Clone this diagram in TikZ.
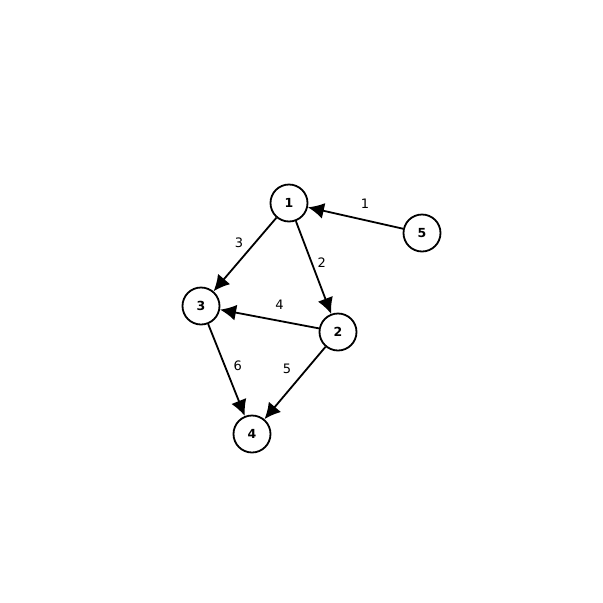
\documentclass[tikz,border=0pt]{standalone}
\usepackage{fontspec}
\setmainfont{DejaVu Sans}
\usetikzlibrary{arrows.meta,positioning}
\tikzset{%
  every vertex/.style={
    circle,
    draw,
    line width=1.8pt,
    minimum size=37pt,
    inner sep=0pt,
    font=\fontsize{12.5}{14}\selectfont\bfseries
  },
  weight/.style={
    font=\fontsize{13}{15}\selectfont,
    inner sep=2pt
  },
}

\begin{document}
\begin{tikzpicture}[x=1pt, y=-1pt, > = {Latex[length=16pt,width=16pt]}]
\useasboundingbox (0,0) rectangle (603,603);
    \foreach \n/\x/\y in {1/289/203, 2/338/332, 3/201/306, 4/252/434, 5/422/233}
        \node[every vertex] (v\n) at (\x,\y) {\n};

    \draw[line width=1.8pt, ->] (v5) -- (v1) node[weight, pos=0.4, above=9pt] {1};
    \draw[line width=1.8pt, ->] (v1) -- (v3) node[weight, pos=0.45, above left=0pt and 2pt] {3};
    \draw[line width=1.8pt, ->] (v1) -- (v2) node[weight, pos=0.45, right=3pt] {2};
    \draw[line width=1.8pt, ->] (v2) -- (v3) node[weight, pos=0.4, above=8pt] {4};
    \draw[line width=1.8pt, ->] (v2) -- (v4) node[weight, pos=0.45, above left=3pt and 4pt] {5};
    \draw[line width=1.8pt, ->] (v3) -- (v4) node[weight, pos=0.45, right=6pt] {6};
\end{tikzpicture}
\end{document}
